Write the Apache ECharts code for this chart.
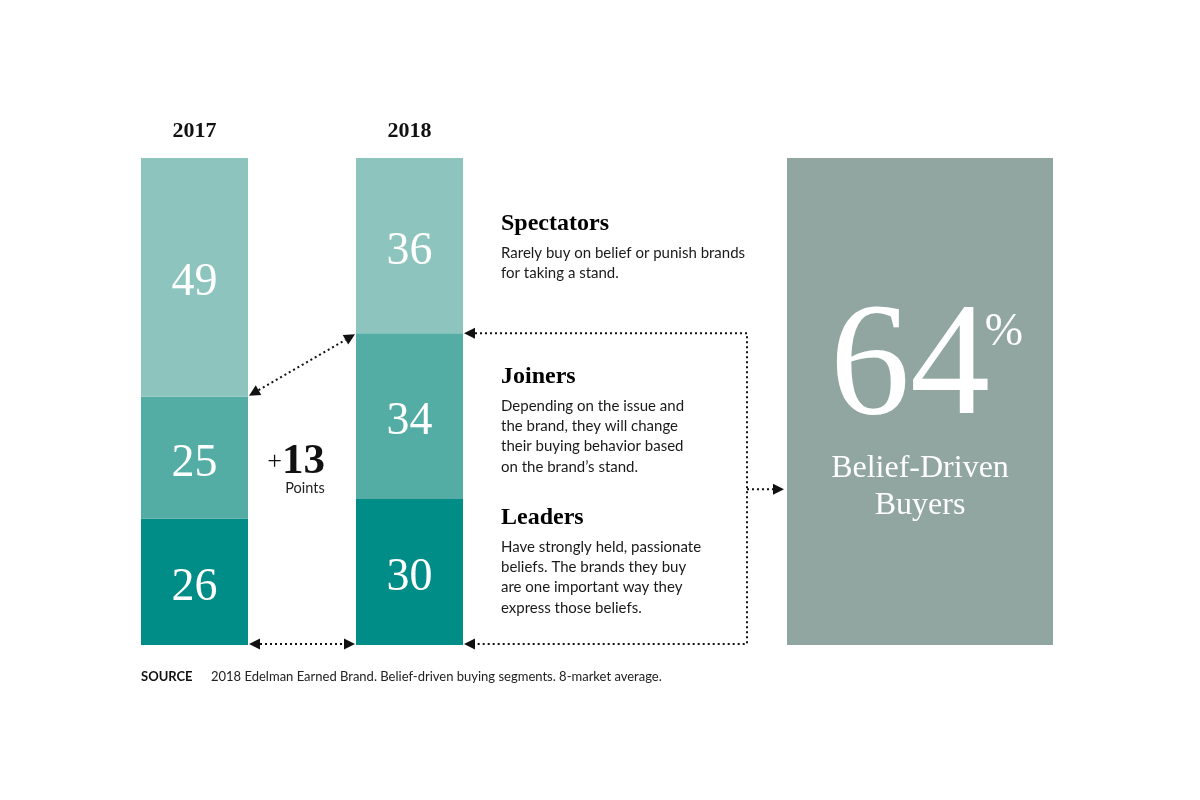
<!DOCTYPE html>
<html><head><meta charset="utf-8">
<script src="https://cdn.jsdelivr.net/npm/echarts@6/dist/echarts.min.js"></script>
<style>html,body{margin:0;padding:0;background:#fff}#c{width:1200px;height:800px}</style>
</head><body><div id="c"></div>
<script>
const years = ['2017', '2018'];
const segments = ['Leaders', 'Joiners', 'Spectators'];
const leaders = [26, 30];
const joiners = [25, 34];
const spectators = [49, 36];
const segmentTitles = ['Spectators', 'Joiners', 'Leaders'];
const segmentText = [
  ['Rarely buy on belief or punish brands', 'for taking a stand.'],
  ['Depending on the issue and', 'the brand, they will change', 'their buying behavior based', 'on the brand\u2019s stand.'],
  ['Have strongly held, passionate', 'beliefs. The brands they buy', 'are one important way they', 'express those beliefs.']
];
const sourceLabel = 'SOURCE';
const sourceText = '2018 Edelman Earned Brand. Belief-driven buying segments. 8-market average.';

(function () {
const colors = ['#008C87', '#53ADA5', '#8DC4BD'];
const boxColor = '#92A6A1';
const serif = '"Liberation Serif", "DejaVu Serif", serif';
const sans = 'Lato, "Open Sans", sans-serif';
const BAR_W = 107;

const chart = echarts.init(document.getElementById('c'), null, {renderer: 'canvas'});
const seriesData = [leaders, joiners, spectators];
chart.setOption({
  animation: false,
  grid: {left: 87, width: 430, top: 158, height: 487},
  xAxis: {
    type: 'category', data: years, position: 'top',
    axisLine: {show: false}, axisTick: {show: false},
    axisLabel: {fontFamily: serif, fontWeight: 'bold', fontSize: 22, color: '#111', margin: 16}
  },
  yAxis: {type: 'value', min: 0, max: 100, show: false},
  series: segments.map((s, i) => ({
    name: s, type: 'bar', stack: 'all', barWidth: BAR_W,
    data: seriesData[i],
    itemStyle: {color: colors[i]},
    label: {show: true, position: 'inside', offset: [0, 6], color: '#fff', fontFamily: serif, fontSize: 46, formatter: '{c}'}
  }))
});

function px(cat, v) { return chart.convertToPixel({gridIndex: 0}, [cat, v]); }

const g = [];
const ink = '#111';
function dotted(points) {
  g.push({type: 'polyline', shape: {points}, style: {stroke: ink, lineWidth: 2, lineDash: [2, 3], fill: null}, z: 10});
}
function head(tip, from) {
  const dx = tip[0] - from[0], dy = tip[1] - from[1];
  const len = Math.hypot(dx, dy); const ux = dx / len, uy = dy / len;
  const L = 11, W = 5.5;
  const bx = tip[0] - ux * L, by = tip[1] - uy * L;
  g.push({type: 'polygon', shape: {points: [tip, [bx - uy * W, by + ux * W], [bx + uy * W, by - ux * W]]}, style: {fill: ink}, z: 11});
  return [bx, by];
}
function arrow(a, b, both) {
  const pb = head(b, a);
  const pa = both ? head(a, b) : a;
  dotted([pa, pb]);
}

const half = BAR_W / 2;
const c17 = px(years[0], 0), c18 = px(years[1], 0);
const j17 = px(years[0], leaders[0] + joiners[0]);
const j18 = px(years[1], leaders[1] + joiners[1]);
const baseY = c17[1];
const topY = px(years[0], 100)[1];

arrow([c17[0] + half + 1, j17[1] - 1], [c18[0] - half - 1, j18[1] + 1], true);
arrow([c17[0] + half + 1, baseY - 1], [c18[0] - half - 1, baseY - 1], true);
const rx = c18[0] + half + 1, bx = 747;
const h1 = head([rx, j18[1]], [bx, j18[1]]);
const h2 = head([rx, baseY - 1], [bx, baseY - 1]);
dotted([h1, [bx, j18[1]], [bx, baseY - 1], h2]);
const midY = (j18[1] + baseY) / 2;
const boxL = 787, boxR = 1053;
arrow([bx, midY], [boxL - 3, midY], false);

const change = (leaders[1] + joiners[1]) - (leaders[0] + joiners[0]);
g.push({type: 'text', x: 282, y: 462, style: {text: '+', fontFamily: serif, fontSize: 26, fill: ink, align: 'right', verticalAlign: 'middle'}});
g.push({type: 'text', x: 282, y: 462, style: {text: String(change), fontFamily: serif, fontWeight: 'bold', fontSize: 43, fill: ink, align: 'left', verticalAlign: 'middle'}});
g.push({type: 'text', x: 305, y: 488, style: {text: 'Points', fontFamily: sans, fontSize: 14.5, fill: '#222', align: 'center', verticalAlign: 'middle'}});

const textX = 501;
const titleY = [224, 377, 518];
segmentTitles.forEach((t, i) => {
  g.push({type: 'text', x: textX, y: titleY[i], style: {text: t, fontFamily: serif, fontWeight: 'bold', fontSize: 24, fill: '#000', verticalAlign: 'middle'}});
  segmentText[i].forEach((line, k) => {
    g.push({type: 'text', x: textX, y: titleY[i] + 29 + k * 20.3, style: {text: line, fontFamily: sans, fontSize: 15, fill: '#1a1a1a', verticalAlign: 'middle'}});
  });
});

const pct = leaders[1] + joiners[1];
g.push({type: 'rect', shape: {x: boxL, y: topY, width: boxR - boxL, height: baseY - topY}, style: {fill: boxColor}, z: 1});
g.push({type: 'text', x: 910, y: 371, style: {text: String(pct), fontFamily: serif, fontSize: 160, fill: '#fff', align: 'center', verticalAlign: 'middle'}, z: 2});
g.push({type: 'text', x: 1004, y: 333, style: {text: '%', fontFamily: serif, fontSize: 46, fill: '#fff', align: 'center', verticalAlign: 'middle'}, z: 2});
g.push({type: 'text', x: 920, y: 469, style: {text: 'Belief-Driven', fontFamily: serif, fontSize: 32, fill: '#fff', align: 'center', verticalAlign: 'middle'}, z: 2});
g.push({type: 'text', x: 920, y: 506, style: {text: 'Buyers', fontFamily: serif, fontSize: 32, fill: '#fff', align: 'center', verticalAlign: 'middle'}, z: 2});

g.push({type: 'text', x: 141, y: 677, style: {text: sourceLabel, fontFamily: sans, fontWeight: 'bold', fontSize: 13, fill: ink, verticalAlign: 'middle'}});
g.push({type: 'text', x: 211, y: 677, style: {text: sourceText, fontFamily: sans, fontSize: 13, fill: '#222', verticalAlign: 'middle'}});

chart.setOption({graphic: {elements: g}});
})();
</script></body></html>
